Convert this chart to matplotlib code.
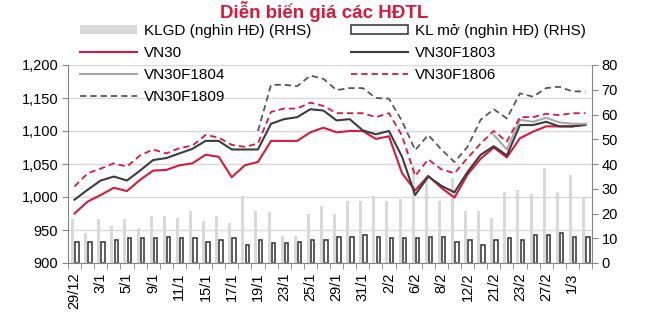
import numpy as np
import matplotlib
matplotlib.use('Agg')
import matplotlib.pyplot as plt

plt.rcParams['font.family'] = ['Liberation Sans', 'DejaVu Sans']

nan = np.nan

dates = ['29/12', '2/1', '3/1', '4/1', '5/1', '8/1', '9/1', '10/1', '11/1', '12/1',
         '15/1', '16/1', '17/1', '18/1', '19/1', '22/1', '23/1', '24/1', '25/1', '26/1',
         '29/1', '30/1', '31/1', '1/2', '2/2', '5/2', '6/2', '7/2', '8/2', '9/2',
         '12/2', '13/2', '21/2', '22/2', '23/2', '26/2', '27/2', '28/2', '1/3', '2/3']

vn30 = [975, 993, 1003, 1014, 1009, 1026, 1040, 1041, 1048, 1051,
        1064, 1061, 1030, 1048, 1053, 1085, 1085, 1085, 1098, 1105,
        1098, 1100, 1100, 1088, 1092, 1036, 1010, 1032, 1014, 999,
        1034, 1058, 1075, 1060, 1089, 1099, 1107, 1107, 1107, 1109]

f1803 = [996, 1011, 1025, 1031, 1025, 1040, 1056, 1059, 1066, 1073,
         1085, 1085, 1072, 1072, 1072, 1111, 1118, 1121, 1133, 1131,
         1116, 1118, 1101, 1095, 1100, 1061, 1003, 1031, 1017, 1007,
         1038, 1064, 1077, 1063, 1109, 1109, 1114, 1107, 1107, 1110]

f1804 = [nan] * 32 + [1094, 1072, 1117, 1114, 1120, 1113, 1111, 1111]

f1806 = [1016, 1036, 1043, 1051, 1046, 1063, 1072, 1066, 1074, 1078,
         1094, 1090, 1079, 1076, 1081, 1129, 1134, 1134, 1143, 1138,
         1127, 1127, 1127, 1121, 1127, 1093, 1032, 1057, 1042, 1036,
         1059, 1081, 1100, 1084, 1121, 1121, 1126, 1124, 1127, 1127]

f1809 = [nan] * 14 + [1100, 1170, 1170, 1168, 1184, 1179,
                      1162, 1165, 1165, 1150, 1149, 1115, 1071, 1094, 1072, 1053,
                      1076, 1117, 1133, 1119, 1157, 1152, 1165, 1167, 1160, 1160]

# khoi luong giao dich / khoi luong mo (nghin HD)
klgd = [17.6, 12.3, 17.6, 15.0, 17.6, 14.3, 19.0, 19.0, 18.3, 21.1,
        16.9, 19.0, 16.3, 27.1, 21.1, 20.5, 11.1, 11.1, 19.8, 23.2,
        19.8, 25.2, 25.2, 27.1, 25.2, 25.9, 39.0, 35.0, 25.2, 34.2,
        21.1, 21.1, 18.3, 28.6, 29.5, 27.8, 38.3, 28.6, 35.6, 26.8]

kl_mo = [8.6, 8.6, 8.6, 9.3, 10.0, 10.0, 10.0, 10.7, 10.0, 10.0,
         8.6, 9.3, 10.0, 7.3, 9.3, 8.0, 8.0, 8.6, 9.3, 9.3,
         10.7, 10.7, 11.3, 10.7, 10.0, 10.0, 10.0, 10.7, 10.7, 8.6,
         9.3, 7.3, 9.3, 10.0, 9.3, 11.3, 11.3, 12.0, 10.7, 10.7]

red = '#d71a3c'
axis_col = '#868686'
x = np.arange(len(dates))

fig = plt.figure(figsize=(6.48, 3.25), dpi=100)
ax = fig.add_axes([68/648, 1 - 263/325, (592 - 68)/648, (263 - 65)/325])
axb = ax.twinx()
ax.set_zorder(axb.get_zorder() + 1)
ax.patch.set_visible(False)

# cot tren truc phai
b1 = axb.bar(x - 0.15, klgd, width=0.23, color='#d9d9d9', linewidth=0,
             label='KLGD (nghìn HĐ) (RHS)')
b2 = axb.bar(x + 0.18, kl_mo, width=0.26, facecolor='white', edgecolor='#404040',
             linewidth=1.2, label='KL mở (nghìn HĐ) (RHS)')
axb.set_ylim(0, 80)
axb.set_yticks(range(0, 81, 10))

# duong gia tren truc trai
l1, = ax.plot(x, vn30, color=red, lw=1.5, label='VN30')
l2, = ax.plot(x, f1803, color='#3c3c3c', lw=1.5, label='VN30F1803')
l3, = ax.plot(x, f1804, color='#a9a9a9', lw=1.5, label='VN30F1804')
l4, = ax.plot(x, f1806, color=red, lw=1.3, ls=(0, (3.5, 2.2)), label='VN30F1806')
l5, = ax.plot(x, f1809, color='#585858', lw=1.3, ls=(0, (3.5, 2.2)), label='VN30F1809')

ax.set_ylim(900, 1200)
ax.set_yticks(range(900, 1201, 50))
ax.set_yticklabels(['{:,}'.format(v) for v in range(900, 1201, 50)])
ax.set_xlim(-0.5, len(dates) - 0.5)
ax.set_xticks(x[::2])
ax.set_xticklabels(dates[::2], rotation=90)
ax.set_xticks(np.arange(-0.5, len(dates), 1), minor=True)
ax.tick_params(axis='x', which='major', length=0, pad=7, labelsize=10.5)
ax.tick_params(axis='x', which='minor', length=4, color=axis_col, direction='out')
ax.tick_params(axis='y', length=4, color=axis_col, labelsize=10.5, pad=3)
axb.tick_params(axis='y', length=4, color=axis_col, labelsize=10.5, pad=3)
ax.yaxis.grid(True, color='#d9d9d9', lw=1)
ax.set_axisbelow(True)

for s in ['top', 'right']:
    ax.spines[s].set_visible(False)
for s in ['top', 'left', 'bottom']:
    axb.spines[s].set_visible(False)
for s in ['left', 'bottom']:
    ax.spines[s].set_color(axis_col)
axb.spines['right'].set_color(axis_col)

fig.text(0.5, 1 - 12/325, 'Diễn biến giá các HĐTL', color=red, fontsize=13.5,
         fontweight='bold', ha='center', va='center')

handles = [b1, l1, l3, l5, b2, l2, l4]
fig.legend(handles, [h.get_label() for h in handles], ncol=2, loc='upper left',
           bbox_to_anchor=(80/648, 1 - 24/325), frameon=False, fontsize=11,
           handlelength=3.7, handleheight=0.55, handletextpad=0.5,
           columnspacing=2.6, labelspacing=0.52, borderpad=0, borderaxespad=0)

fig.savefig('out.png', dpi=100)
